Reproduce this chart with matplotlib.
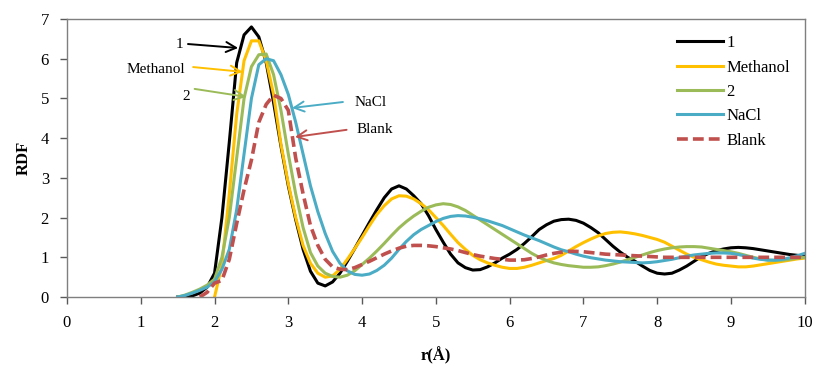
import numpy as np
import matplotlib
matplotlib.use("Agg")
import matplotlib.pyplot as plt

nan = np.nan

# r (Angstrom) sample grid, 1.5 .. 10.0
r = np.arange(15, 101) / 10.0

rdf_1 = [0, 0, 0.03, 0.1, 0.25, 0.6,
         2.0, 3.9, 5.9, 6.6, 6.8, 6.55, 5.9, 4.9, 3.8, 2.8,
         1.95, 1.2, 0.65, 0.35, 0.28, 0.38, 0.6, 0.9, 1.22, 1.55,
         1.88, 2.2, 2.5, 2.72, 2.8, 2.72, 2.55, 2.35, 2.05, 1.7,
         1.38, 1.08, 0.86, 0.74, 0.68, 0.69, 0.76, 0.86, 0.98, 1.08,
         1.2, 1.35, 1.52, 1.7, 1.82, 1.91, 1.95, 1.96, 1.93, 1.86,
         1.75, 1.62, 1.45, 1.28, 1.13, 1.0, 0.9, 0.78, 0.67, 0.6,
         0.58, 0.6, 0.68, 0.78, 0.9, 1.02, 1.1, 1.17, 1.21, 1.24,
         1.25, 1.24, 1.22, 1.19, 1.16, 1.13, 1.1, 1.07, 1.05, 1.03]

rdf_methanol = [nan, nan, nan, nan, nan, 0.0,
                0.8, 2.6, 4.6, 5.95, 6.45, 6.45, 5.95, 5.1, 3.85, 2.85,
                2.0, 1.3, 0.85, 0.6, 0.5, 0.53, 0.7, 0.95, 1.22, 1.5,
                1.8, 2.08, 2.3, 2.47, 2.55, 2.54, 2.47, 2.35, 2.2, 2.0,
                1.8, 1.58, 1.37, 1.2, 1.05, 0.94, 0.86, 0.8, 0.75, 0.72,
                0.72, 0.75, 0.8, 0.86, 0.92, 0.97, 1.05, 1.16, 1.27, 1.37,
                1.46, 1.54, 1.6, 1.63, 1.64, 1.62, 1.59, 1.55, 1.5, 1.45,
                1.38, 1.28, 1.18, 1.08, 1.0, 0.94, 0.88, 0.83, 0.8, 0.78,
                0.76, 0.76, 0.78, 0.81, 0.84, 0.87, 0.9, 0.93, 0.96, 0.98]

rdf_2 = [0.0, 0.05, 0.12, 0.2, 0.3, 0.45,
         1.0, 2.0, 3.5, 5.0, 5.8, 6.1, 6.12, 5.6, 4.7, 3.6,
         2.6, 1.75, 1.12, 0.78, 0.6, 0.52, 0.5, 0.55, 0.66, 0.82,
         0.98, 1.16, 1.35, 1.55, 1.74, 1.9, 2.04, 2.16, 2.26, 2.32,
         2.35, 2.33, 2.27, 2.18, 2.06, 1.94, 1.82, 1.7, 1.58, 1.46,
         1.34, 1.22, 1.1, 1.0, 0.92, 0.86, 0.82, 0.79, 0.77, 0.75,
         0.75, 0.76, 0.79, 0.83, 0.88, 0.94, 1.0, 1.06, 1.12, 1.17,
         1.21, 1.24, 1.26, 1.27, 1.27, 1.26, 1.23, 1.2, 1.17, 1.14,
         1.1, 1.05, 1.0, 0.96, 0.93, 0.92, 0.93, 0.95, 0.98, 1.0]

rdf_nacl = [0.0, 0.04, 0.1, 0.17, 0.25, 0.38,
            0.7, 1.2, 2.2, 3.6, 5.0, 5.85, 6.0, 5.95, 5.6, 5.1,
            4.4, 3.6, 2.8, 2.15, 1.6, 1.15, 0.85, 0.66, 0.57, 0.55,
            0.58, 0.67, 0.8, 0.98, 1.2, 1.4, 1.57, 1.7, 1.8, 1.9,
            1.98, 2.03, 2.05, 2.04, 2.01, 1.97, 1.92, 1.86, 1.8, 1.72,
            1.64, 1.56, 1.49, 1.42, 1.34, 1.26, 1.19, 1.14, 1.08, 1.03,
            0.99, 0.96, 0.93, 0.91, 0.89, 0.88, 0.87, 0.86, 0.87, 0.89,
            0.92, 0.95, 0.99, 1.03, 1.06, 1.08, 1.1, 1.11, 1.11, 1.1,
            1.07, 1.03, 0.98, 0.95, 0.93, 0.93, 0.95, 0.99, 1.04, 1.1]

rdf_blank = [nan, nan, nan, 0.0, 0.12, 0.35,
             0.42, 0.95, 1.85, 2.7, 3.45, 4.4, 4.85, 5.08, 5.0, 4.7,
             3.5, 2.6, 1.8, 1.3, 0.95, 0.76, 0.7, 0.69, 0.74, 0.82,
             0.9, 0.99, 1.08, 1.16, 1.23, 1.28, 1.3, 1.3, 1.29, 1.27,
             1.24, 1.21, 1.17, 1.12, 1.07, 1.03, 1.0, 0.97, 0.95, 0.93,
             0.93, 0.94, 0.97, 1.01, 1.06, 1.1, 1.13, 1.15, 1.15, 1.14,
             1.12, 1.1, 1.08, 1.07, 1.06, 1.05, 1.04, 1.03, 1.02, 1.01,
             1.0, 1.0, 1.0, 1.0, 1.0, 1.0, 1.0, 1.0, 1.0, 1.0,
             1.0, 1.0, 1.0, 1.0, 1.0, 1.0, 1.0, 1.0, 1.0, 1.0]

labels = ["1", "Methanol", "2", "NaCl", "Blank"]
colors = ["#000000", "#FFC000", "#9BBB59", "#4BACC6", "#C0504D"]

plt.rcParams['font.family'] = ['Liberation Serif', 'DejaVu Serif']

fig = plt.figure(figsize=(8.17, 3.69), dpi=100)
ax = fig.add_axes([0.082, 0.195, 0.903, 0.7535])

series = [rdf_1, rdf_methanol, rdf_2, rdf_nacl, rdf_blank]
for vals, lab, col in zip(series, labels, colors):
    if lab == "Blank":
        ax.plot(r, vals, color=col, lw=2.6, ls=(0, (3.0, 1.4)), label=lab)
    else:
        ax.plot(r, vals, color=col, lw=2.2, label=lab)

ax.set_xlim(0, 10)
ax.set_ylim(0, 7)
ax.set_xticks(range(0, 11))
ax.set_yticks(range(0, 8))
ax.tick_params(direction='out', length=5, width=1, color='#595959',
               labelsize=12, pad=8)
for s in ax.spines.values():
    s.set_color('#7f7f7f')
    s.set_linewidth(1.0)
ax.set_xlabel("r(Å)", fontsize=12, fontweight='bold', labelpad=11)
ax.set_ylabel("RDF", fontsize=12, fontweight='bold', labelpad=6)

# callouts: (text, text pos, arrow start, arrow tip)
notes = [
    ("1", (1.52, 6.35), (1.64, 6.37), (2.32, 6.27)),
    ("Methanol", (1.21, 5.74), (1.71, 5.79), (2.38, 5.67)),
    ("2", (1.61, 5.06), (1.73, 5.24), (2.43, 5.04)),
    ("NaCl", (4.11, 4.91), (3.74, 4.91), (3.05, 4.76)),
    ("Blank", (4.17, 4.21), (3.79, 4.21), (3.09, 4.03)),
]
for (txt, tpos, start, tip), col in zip(notes, colors):
    ax.text(tpos[0], tpos[1], txt, fontsize=11, ha='center', va='center')
    ax.annotate('', xy=tip, xytext=start,
                arrowprops=dict(arrowstyle='->', color=col, lw=1.4,
                                shrinkA=0, shrinkB=0, mutation_scale=18))

ax.legend(loc='upper left', bbox_to_anchor=(0.818, 0.927),
          bbox_transform=fig.transFigure, frameon=False, fontsize=12,
          handlelength=2.8, handletextpad=0.2, labelspacing=0.5,
          borderpad=0)

fig.savefig("out.png", dpi=100)
